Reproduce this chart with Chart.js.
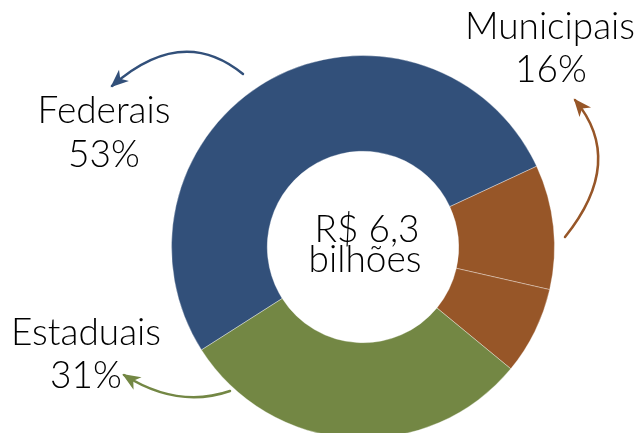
<!DOCTYPE html>
<html lang="pt-BR">
<head>
<meta charset="utf-8">
<script src="https://cdn.jsdelivr.net/npm/chart.js@4"></script>
<style>
    html, body { margin: 0; padding: 0; background: #fff; overflow: hidden; }
    #wrap { position: relative; width: 639px; height: 445px; }
</style>
</head>
<body>
<div id="wrap"><canvas id="grafico" width="639" height="445"></canvas></div>
<script>
// Dados da gráfica (percentuais; Municipais aparece em duas fatias)
const categorias = ['Federais', 'Municipais', 'Municipais', 'Estaduais'];
const valores = [52.1, 10.5, 7.4, 30.0];
const cores = ['#32507a', '#975628', '#975628', '#738744'];

// Rótulos externos e texto central
const rotulos = [
    { nome: 'Federais', pct: '53%', cor: '#32507a' },
    { nome: 'Municipais', pct: '16%', cor: '#975628' },
    { nome: 'Estaduais', pct: '31%', cor: '#738744' }
];
const textoCentral = ['R$ 6,3', 'bilhões'];

const fonte = '300 37px Lato, "Open Sans", sans-serif';

// Setas curvas: deslocamentos em relação ao centro do anel (início, controle, ponta)
const setas = [
    { cor: '#32507a', p0: [-120, -173], c: [-181, -223], p2: [-251, -161] },
    { cor: '#975628', p0: [202, -10], c: [263, -86], p2: [212, -147] },
    { cor: '#738744', p0: [-133, 144], c: [-185, 162], p2: [-239, 128] }
];

// Posição dos rótulos em relação ao centro (linha de base)
const posRotulos = [
    [[-259, -124], [-259, -80]],
    [[187, -208], [188, -165]],
    [[-277, 98], [-277, 141]]
];

function desenhaSeta(ctx, cx, cy, s) {
    const x0 = cx + s.p0[0], y0 = cy + s.p0[1];
    const xc = cx + s.c[0], yc = cy + s.c[1];
    const x2 = cx + s.p2[0], y2 = cy + s.p2[1];
    ctx.save();
    ctx.strokeStyle = s.cor;
    ctx.fillStyle = s.cor;
    ctx.lineWidth = 2.5;
    ctx.lineCap = 'round';
    ctx.beginPath();
    ctx.moveTo(x0, y0);
    ctx.quadraticCurveTo(xc, yc, x2, y2);
    ctx.stroke();
    // ponta da seta
    const ang = Math.atan2(y2 - yc, x2 - xc);
    const len = 16, meia = 7.5;
    ctx.translate(x2, y2);
    ctx.rotate(ang);
    ctx.beginPath();
    ctx.moveTo(2, 0);
    ctx.lineTo(-len, -meia);
    ctx.lineTo(-len + 5, 0);
    ctx.lineTo(-len, meia);
    ctx.closePath();
    ctx.fill();
    ctx.restore();
}

const pluginAnotacoes = {
    id: 'anotacoes',
    afterDraw(chart) {
        const ctx = chart.ctx;
        const arco = chart.getDatasetMeta(0).data[0];
        const cx = arco.x, cy = arco.y;

        setas.forEach(s => desenhaSeta(ctx, cx, cy, s));

        ctx.save();
        ctx.font = fonte;
        ctx.fillStyle = '#000000';
        ctx.textAlign = 'center';
        ctx.textBaseline = 'alphabetic';
        rotulos.forEach((r, i) => {
            const p = posRotulos[i];
            ctx.fillText(r.nome, cx + p[0][0], cy + p[0][1]);
            ctx.fillText(r.pct, cx + p[1][0], cy + p[1][1]);
        });
        ctx.fillText(textoCentral[0], cx + 4, cy - 5);
        ctx.fillText(textoCentral[1], cx + 2, cy + 25);
        ctx.restore();
    }
};

const ctx = document.getElementById('grafico').getContext('2d');
const chart = new Chart(ctx, {
    type: 'doughnut',
    data: {
        labels: categorias,
        datasets: [{
            data: valores,
            backgroundColor: cores,
            borderColor: 'rgba(255, 255, 255, 0.35)',
            borderWidth: 1
        }]
    },
    options: {
        responsive: false,
        animation: false,
        devicePixelRatio: 1,
        cutout: '50%',
        rotation: 237.5,
        layout: { padding: { left: 171, right: 84, top: 55, bottom: 6 } },
        plugins: {
            legend: { display: false },
            tooltip: { enabled: false }
        }
    },
    plugins: [pluginAnotacoes]
});
</script>
</body>
</html>
